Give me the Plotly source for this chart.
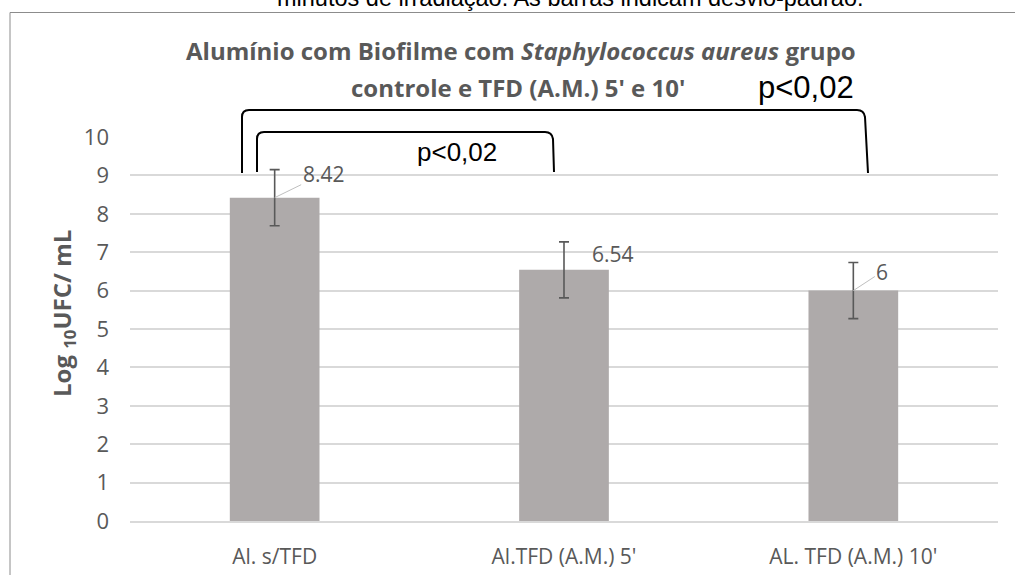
import plotly.graph_objects as go

# --- data ---
categories = ["Al. s/TFD", "Al.TFD (A.M.) 5'", "AL. TFD (A.M.) 10'"]
log_ufc = [8.42, 6.54, 6.0]
std_dev = [0.73, 0.73, 0.73]
value_labels = ["8.42", "6.54", "6"]
y_ticks = list(range(0, 11))
p_value_text = "p<0,02"

# --- page geometry (pixels) ---
W, H = 1015, 575
M_L, M_R, M_T, M_B = 130, 17, 137, 54
PW = W - M_L - M_R
PH = H - M_T - M_B


def px(x):
    """pixel x -> paper x"""
    return (x - M_L) / PW


def py(y):
    """pixel y (from top) -> paper y"""
    return (H - M_B - y) / PH


GRAY_TXT = "#595959"
GRID = "#d9d9d9"
BAR = "#AEAAAA"
SANS = "'Open Sans', Lato, sans-serif"
ARIAL = "'Liberation Sans', Arial, sans-serif"

fig = go.Figure()
fig.add_trace(go.Bar(
    x=categories,
    y=log_ufc,
    width=0.31,
    marker=dict(color=BAR, line=dict(width=0)),
    error_y=dict(type="data", array=std_dev, visible=True,
                 color=GRAY_TXT, thickness=1.6, width=5),
    hoverinfo="x+y",
))

# data labels with leader lines
label_dx = [49, 49, 29]
label_dy = [-24, -16, -19]
label_leader = [True, False, True]
for cat, val, txt, dx, dy, lead in zip(categories, log_ufc, value_labels,
                                       label_dx, label_dy, label_leader):
    if lead:
        fig.add_annotation(x=cat, y=val, xref="x", yref="y", text=txt,
                           showarrow=True, ax=dx, ay=dy, arrowhead=0,
                           arrowwidth=1, arrowcolor="#BFBFBF", standoff=0,
                           font=dict(family=SANS, size=21, color=GRAY_TXT))
    else:
        fig.add_annotation(x=cat, y=val, xref="x", yref="y", text=txt,
                           showarrow=False, xshift=dx, yshift=-dy,
                           font=dict(family=SANS, size=21, color=GRAY_TXT))

center = dict(xref="paper", yref="paper", showarrow=False,
              xanchor="center", yanchor="middle")

# chart titles
fig.add_annotation(x=px(521), y=py(50),
                   text="<b>Alumínio com Biofilme com <i>Staphylococcus aureus</i> grupo</b>",
                   font=dict(family=SANS, size=24, color=GRAY_TXT), **center)
fig.add_annotation(x=px(518), y=py(88),
                   text="<b>controle e TFD (A.M.) 5' e 10'</b>",
                   font=dict(family=SANS, size=24, color=GRAY_TXT), **center)

# caption line running across the top edge
fig.add_annotation(x=px(570), y=py(-2),
                   text="minutos de irradiação. As barras indicam desvio-padrão.",
                   font=dict(family=ARIAL, size=23.5, color="#000000"), **center)

# y axis title
fig.add_annotation(x=px(63), y=py(314),
                   text="<b>Log <sub>10</sub>UFC/ mL</b>", textangle=-90,
                   font=dict(family=SANS, size=24, color=GRAY_TXT), **center)

# significance labels
fig.add_annotation(x=px(806), y=py(88), text=p_value_text,
                   font=dict(family=ARIAL, size=31, color="#000000"), **center)
fig.add_annotation(x=px(457), y=py(152), text=p_value_text,
                   font=dict(family=ARIAL, size=26, color="#000000"), **center)


def bracket(x0, x1_top, x1_bot, y_top, y_bot, r=7):
    pts = [
        f"M {px(x0)},{py(y_bot)}",
        f"L {px(x0)},{py(y_top + r)}",
        f"Q {px(x0)},{py(y_top)} {px(x0 + r)},{py(y_top)}",
        f"L {px(x1_top - r)},{py(y_top)}",
        f"Q {px(x1_top)},{py(y_top)} {px(x1_top + 1)},{py(y_top + r)}",
        f"L {px(x1_bot)},{py(y_bot)}",
    ]
    return " ".join(pts)


shapes = [
    # chart area frame
    dict(type="rect", xref="paper", yref="paper",
         x0=px(10), x1=px(1030), y0=py(600), y1=py(12.5),
         line=dict(color="#8C8C8C", width=1), fillcolor="rgba(0,0,0,0)",
         layer="below"),
    # comparison brackets
    dict(type="path", xref="paper", yref="paper",
         path=bracket(242, 864, 868, 110, 173),
         line=dict(color="#000000", width=2)),
    dict(type="path", xref="paper", yref="paper",
         path=bracket(257, 552, 554, 132, 172),
         line=dict(color="#000000", width=2)),
]

fig.update_layout(
    width=W, height=H,
    margin=dict(l=M_L, r=M_R, t=M_T, b=M_B, pad=0, autoexpand=False),
    paper_bgcolor="white", plot_bgcolor="white",
    showlegend=False,
    shapes=shapes,
    xaxis=dict(
        showline=True, linecolor=GRID, linewidth=1.5,
        showgrid=False, ticks="", automargin=False,
        tickfont=dict(family=SANS, size=21, color=GRAY_TXT),
        ticklabelstandoff=16,
    ),
    yaxis=dict(
        range=[0, 10], tickvals=y_ticks,
        showgrid=True, gridcolor=GRID, gridwidth=1.5,
        zeroline=False, showline=False, ticks="", automargin=False,
        tickfont=dict(family=SANS, size=22, color=GRAY_TXT),
        ticklabelstandoff=20,
    ),
)

fig.write_html("out.html")
